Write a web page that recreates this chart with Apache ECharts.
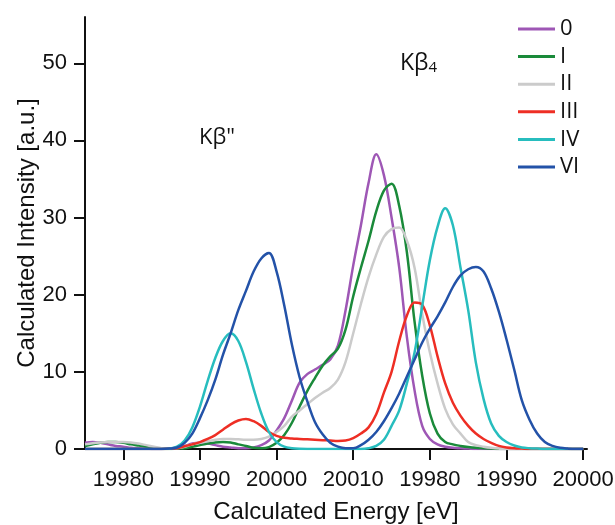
<!DOCTYPE html>
<html>
<head>
<meta charset="utf-8">
<script src="https://cdn.jsdelivr.net/npm/echarts@6/dist/echarts.min.js"></script>
<style>
  html, body { margin: 0; padding: 0; background: #fff; }
  #main { width: 615px; height: 525px; }
</style>
</head>
<body>
<div id="main"></div>
<script>
// energy grid (x values)
const energy = [
  19975, 19976, 19977, 19978, 19979, 19980, 19981, 19982, 19983, 19984,
  19985, 19986, 19987, 19988, 19989, 19990, 19991, 19992, 19993, 19994,
  19995, 19996, 19997, 19998, 19999, 20000, 20001, 20002, 20003, 20004,
  20005, 20006, 20007, 20008, 20009, 20010, 20011, 20012, 20013, 20014,
  20015, 20016, 20017, 20018, 20019, 20020, 20021, 20022, 20023, 20024,
  20025, 20026, 20027, 20028, 20029, 20030, 20031, 20032, 20033, 20034,
  20035, 20036, 20037, 20038, 20039, 20040
]

// tick positions and the labels printed under them
const tickValues = [19980, 19990, 20000, 20010, 20020, 20030, 20040]
const tickLabels = ['19980', '19990', '20000', '20010', '19980', '19990', '20000']
const yTicks = [0, 10, 20, 30, 40, 50]

const seriesNames = ['0', 'I', 'II', 'III', 'IV', 'VI']
const seriesColors = ['#9E57B5', '#1A8A3A', '#CBCBCB', '#EE2E24', '#27BDBE', '#2352A8']

const s0 = [
  0.8, 0.9, 0.8, 0.6, 0.4, 0.3, 0.15, 0.1, 0.05, 0,
  0, 0.05, 0.2, 0.4, 0.7, 0.8, 0.7, 0.5, 0.3, 0.2,
  0.1, 0.1, 0.2, 0.5, 1.1, 2.4, 4.0, 6.3, 8.6, 9.7,
  10.3, 10.9, 11.6, 13.4, 18.0, 23.8, 29.0, 34.5, 38.2, 35.5,
  30.0, 23.5, 14.5, 7.6, 3.0, 1.3, 0.6, 0.3, 0.15, 0.1,
  0.05, 0, 0, 0, 0, 0, 0, 0, 0, 0,
  0, 0, 0, 0, 0, 0
]
const s1 = [
  0.4, 0.6, 0.8, 0.9, 0.9, 0.8, 0.6, 0.45, 0.3, 0.15,
  0.05, 0, 0.05, 0.1, 0.3, 0.5, 0.7, 0.85, 0.9, 0.85,
  0.6, 0.4, 0.15, 0.1, 0.25, 0.8, 1.8, 3.4, 5.5, 7.5,
  9.2, 10.8, 12.0, 13.0, 15.5, 19.8, 23.5, 27.0, 30.8, 33.5,
  34.4, 31.5, 25.5, 16.5, 9.5, 4.6, 2.0, 0.9, 0.6, 0.4,
  0.25, 0.15, 0.1, 0.05, 0, 0, 0, 0, 0, 0,
  0, 0, 0, 0, 0, 0
]
const s2 = [
  0.6, 0.75, 0.85, 0.9, 0.9, 0.9, 0.85, 0.7, 0.5, 0.3,
  0.1, 0.05, 0.1, 0.3, 0.6, 0.8, 1.0, 1.2, 1.3, 1.3,
  1.25, 1.2, 1.2, 1.3, 1.6, 2.2, 3.0, 4.2, 5.0, 5.8,
  6.6, 7.3, 7.9, 9.0, 11.3, 15.0, 18.8, 22.3, 25.2, 27.5,
  28.5, 28.7, 27.0, 23.5, 17.5, 12.5, 8.5, 5.2, 3.2, 2.0,
  0.9, 0.5, 0.3, 0.15, 0.05, 0, 0, 0, 0, 0,
  0, 0, 0, 0, 0, 0
]
const s3 = [
  0, 0, 0, 0, 0, 0, 0, 0, 0, 0,
  0, 0.02, 0.1, 0.35, 0.6, 0.9, 1.3, 1.8, 2.5, 3.2,
  3.7, 3.9, 3.6, 3.0, 2.2, 1.7, 1.45, 1.35, 1.3, 1.25,
  1.2, 1.15, 1.1, 1.05, 1.1, 1.4, 2.0, 2.8, 4.5, 7.3,
  10.0, 14.0, 17.3, 19.0, 18.7, 16.0, 12.0, 8.5, 6.0, 4.3,
  3.0, 2.0, 1.3, 0.8, 0.4, 0.2, 0.1, 0.05, 0, 0,
  0, 0, 0, 0, 0, 0
]
const s4 = [
  0, 0, 0, 0, 0, 0, 0, 0, 0, 0,
  0, 0.05, 0.3, 1.1, 2.8, 5.5, 8.8, 11.8, 14.0, 15.0,
  14.0, 11.3, 7.8, 4.6, 2.2, 0.9, 0.3, 0.1, 0.02, 0,
  0, 0, 0, 0, 0, 0, 0, 0.1, 0.4, 1.2,
  3.0, 5.0, 8.5, 12.5, 18.5, 24.5, 28.8, 31.2, 29.0, 23.5,
  18.0, 11.2, 6.5, 3.3, 1.7, 0.9, 0.45, 0.2, 0.1, 0.05,
  0, 0, 0, 0, 0, 0
]
const s5 = [
  0, 0, 0, 0, 0, 0, 0, 0, 0, 0,
  0, 0.05, 0.2, 0.8, 2.0, 4.0, 6.3, 9.0, 12.2, 15.0,
  18.0, 20.5, 23.0, 24.7, 25.4, 23.0, 18.6, 13.5, 9.3, 6.2,
  3.5, 1.9, 0.8, 0.3, 0.1, 0.1, 0.5, 1.2, 2.2, 3.6,
  5.3, 7.2, 9.4, 11.6, 13.8, 15.6, 17.2, 19.0, 21.0, 22.5,
  23.3, 23.6, 23.0, 20.8, 17.8, 14.2, 10.3, 6.3, 3.8, 2.0,
  0.9, 0.4, 0.15, 0.05, 0, 0
]
const seriesValues = [s0, s1, s2, s3, s4, s5]

const axisFont = 'Liberation Sans, Arial, sans-serif'
const textFont = 'Open Sans, Noto Sans, sans-serif'

const chart = echarts.init(document.getElementById('main'), null, { renderer: 'canvas' })

const series = seriesNames.map(function(name, k) {
  return {
    name: name,
    type: 'line',
    smooth: 0.35,
    symbol: 'none',
    lineStyle: { color: seriesColors[k], width: 2.5 },
    itemStyle: { color: seriesColors[k] },
    data: energy.map(function(e, i) { return [e, seriesValues[k][i]] })
  }
})

chart.setOption({
  animation: false,
  backgroundColor: '#fff',
  grid: { left: 85, right: 28, top: 17, bottom: 76, outerBoundsMode: 'none' },
  xAxis: {
    type: 'value',
    min: 19975,
    max: 20040.5,
    name: 'Calculated Energy [eV]',
    nameLocation: 'middle',
    nameGap: 51,
    nameTextStyle: { fontFamily: axisFont, fontSize: 24, color: '#111' },
    axisLine: { show: true, lineStyle: { color: '#111', width: 2 } },
    axisTick: { show: true, length: 11, customValues: tickValues, lineStyle: { color: '#111', width: 2 } },
    axisLabel: {
      customValues: tickValues,
      margin: 20,
      fontFamily: axisFont,
      fontSize: 22,
      color: '#111',
      formatter: function(v) {
        const i = tickValues.indexOf(v)
        return i >= 0 ? tickLabels[i] : ''
      }
    },
    splitLine: { show: false }
  },
  yAxis: {
    type: 'value',
    min: 0,
    max: 56,
    name: 'Calculated Intensity [a.u.]',
    nameLocation: 'middle',
    nameGap: 46,
    nameMoveOverlap: false,
    nameTextStyle: { fontFamily: axisFont, fontSize: 24, color: '#111' },
    axisLine: { show: true, lineStyle: { color: '#111', width: 2 } },
    axisTick: { show: true, length: 11, customValues: yTicks, lineStyle: { color: '#111', width: 2 } },
    axisLabel: {
      customValues: yTicks,
      margin: 18,
      fontFamily: axisFont,
      fontSize: 22,
      color: '#111'
    },
    splitLine: { show: false }
  },
  legend: {
    orient: 'vertical',
    left: 513,
    top: 13,
    icon: 'rect',
    itemWidth: 37,
    itemHeight: 3,
    itemGap: 5.6,
    textStyle: { fontFamily: textFont, fontSize: 22, lineHeight: 22, color: '#111', padding: [0, 0, 0, 0] },
    data: seriesNames
  },
  graphic: [
    {
      type: 'text',
      left: 199,
      top: 127,
      style: { text: 'Kβ"', font: '22px ' + textFont, fill: '#111' }
    },
    {
      type: 'text',
      left: 400,
      top: 52,
      style: {
        text: '{a|Kβ}{b|4}',
        rich: {
          a: { fontFamily: textFont, fontSize: 23, fill: '#111', color: '#111' },
          b: { fontFamily: textFont, fontSize: 15, fill: '#111', color: '#111', padding: [8, 0, 0, 0] }
        }
      }
    }
  ],
  series: series
})
</script>
</body>
</html>
